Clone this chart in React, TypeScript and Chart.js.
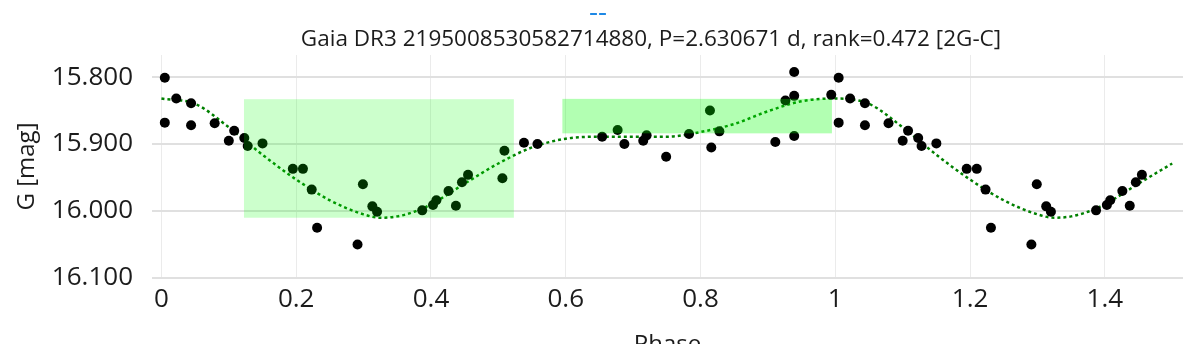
import React, { useEffect, useRef } from "react";
import { Chart, registerables } from "chart.js";

Chart.register(...registerables);

const TITLE_TOP = "--";
const TITLE_MAIN = "Gaia DR3 2195008530582714880, P=2.630671 d, rank=0.472 [2G-C]";
const X_LABEL = "Phase";
const Y_LABEL = "G [mag]";

// observed points (phase in [0,1))
const OBS_PHASE = [
  0.005, 0.005, 0.022, 0.044, 0.044, 0.079, 0.1, 0.108, 0.123, 0.128, 0.15,
  0.195, 0.21, 0.223, 0.231, 0.291, 0.299, 0.313, 0.32, 0.387, 0.403, 0.408,
  0.426, 0.437, 0.446, 0.455, 0.506, 0.509, 0.538, 0.558, 0.654, 0.677, 0.687,
  0.715, 0.72, 0.749, 0.783, 0.814, 0.816, 0.828, 0.911, 0.926, 0.939, 0.939,
  0.939, 0.994,
];
const OBS_MAG = [
  15.801, 15.868, 15.832, 15.839, 15.872, 15.869, 15.895, 15.88, 15.891, 15.903, 15.899,
  15.937, 15.937, 15.968, 16.025, 16.05, 15.96, 15.993, 16.001, 15.999, 15.991, 15.984,
  15.97, 15.992, 15.957, 15.946, 15.951, 15.91, 15.898, 15.9, 15.889, 15.879, 15.9,
  15.895, 15.887, 15.919, 15.885, 15.85, 15.905, 15.881, 15.897, 15.835, 15.7925, 15.828,
  15.888, 15.8265,
];

// model fit curve
const FIT_PHASE = [
  0, 0.05, 0.1, 0.15, 0.2, 0.25, 0.3, 0.325, 0.35, 0.375, 0.4, 0.45, 0.5, 0.55,
  0.6, 0.65, 0.7, 0.75, 0.8, 0.85, 0.9, 0.95, 1.0,
];
const FIT_MAG = [
  15.832, 15.84, 15.875, 15.916, 15.953, 15.984, 16.005, 16.01, 16.008, 16.001, 15.99,
  15.959, 15.929, 15.905, 15.892, 15.889, 15.889, 15.889, 15.882, 15.87, 15.851, 15.836,
  15.832,
];

// highlighted phase windows
const BOX_PHASE_START = [0.1225, 0.595];
const BOX_PHASE_END = [0.523, 0.995];
const BOX_MAG_TOP = [15.833, 15.8325];
const BOX_MAG_BOTTOM = [16.01, 15.884];
const BOX_COLORS = ["rgba(0,255,0,0.2)", "rgba(0,255,0,0.3)"];

const X_TICKS = [0, 0.2, 0.4, 0.6, 0.8, 1, 1.2, 1.4];
const Y_TICKS = [15.8, 15.9, 16.0, 16.1];
const X_MIN = -0.014;
const X_MAX = 1.516;
const Y_MIN = 15.767;
const Y_MAX = 16.1;
const FOLD_LIMIT = 1.5;

const FONT = "'Open Sans', 'Noto Sans', sans-serif";
const TEXT_COLOR = "#1c1c1c";

function buildObs() {
  const pts: { x: number; y: number }[] = [];
  OBS_PHASE.forEach((p, i) => pts.push({ x: p, y: OBS_MAG[i] }));
  OBS_PHASE.forEach((p, i) => {
    if (p + 1 <= FOLD_LIMIT) pts.push({ x: p + 1, y: OBS_MAG[i] });
  });
  return pts;
}

function buildFit() {
  const pts: { x: number; y: number }[] = [];
  FIT_PHASE.forEach((p, i) => pts.push({ x: p, y: FIT_MAG[i] }));
  FIT_PHASE.forEach((p, i) => {
    if (p > 0 && p + 1 <= FOLD_LIMIT) pts.push({ x: p + 1, y: FIT_MAG[i] });
  });
  return pts;
}

const overlayPlugin = {
  id: "overlay",
  afterDatasetsDraw(chart: any) {
    const { ctx, scales } = chart;
    const x = scales.x;
    const y = scales.y;
    ctx.save();
    BOX_PHASE_START.forEach((p0: number, i: number) => {
      const l = x.getPixelForValue(p0);
      const r = x.getPixelForValue(BOX_PHASE_END[i]);
      const t = y.getPixelForValue(BOX_MAG_TOP[i]);
      const b = y.getPixelForValue(BOX_MAG_BOTTOM[i]);
      ctx.fillStyle = BOX_COLORS[i];
      ctx.fillRect(l, Math.min(t, b), r - l, Math.abs(b - t));
    });
    ctx.restore();
  },
  afterDraw(chart: any) {
    const { ctx } = chart;
    ctx.save();
    ctx.textAlign = "center";
    ctx.textBaseline = "middle";
    ctx.fillStyle = "#1e88e5";
    ctx.font = `28px ${FONT}`;
    ctx.fillText(TITLE_TOP, chart.width / 2, 5);
    ctx.fillStyle = TEXT_COLOR;
    ctx.font = `22.5px ${FONT}`;
    ctx.fillText(TITLE_MAIN, 643, 32);
    ctx.restore();
  },
};

export default function App() {
  const ref = useRef<HTMLCanvasElement | null>(null);

  useEffect(() => {
    document.body.style.overflow = "hidden";
    const canvas = ref.current;
    if (!canvas) return;
    const chart = new Chart(canvas, {
      type: "scatter",
      data: {
        datasets: [
          {
            type: "line",
            label: "fit",
            data: buildFit(),
            borderColor: "#008000",
            borderWidth: 2.5,
            borderDash: [3, 3],
            pointRadius: 0,
            fill: false,
            cubicInterpolationMode: "monotone",
            order: 2,
          } as any,
          {
            label: "G",
            data: buildObs(),
            backgroundColor: "#000",
            borderWidth: 0,
            pointRadius: 5,
            order: 1,
          },
        ],
      },
      options: {
        responsive: false,
        animation: false,
        layout: { padding: { top: 47, right: 4, left: 0, bottom: 0 } },
        plugins: {
          legend: { display: false },
          tooltip: { enabled: false },
          title: { display: false },
        },
        scales: {
          x: {
            type: "linear",
            min: X_MIN,
            max: X_MAX,
            afterBuildTicks: (s: any) => {
              s.ticks = X_TICKS.map((v) => ({ value: v }));
            },
            afterFit: (s: any) => {
              s.height = 90;
            },
            grid: { color: "#ebebeb", lineWidth: 1, drawTicks: false },
            border: { display: false },
            ticks: {
              padding: 6,
              color: TEXT_COLOR,
              font: { family: FONT, size: 26 },
              maxRotation: 0,
              callback: (v: any) => String(+Number(v).toFixed(1)),
            },
            title: {
              display: true,
              text: X_LABEL,
              color: TEXT_COLOR,
              font: { family: FONT, size: 24 },
              padding: { top: 0, bottom: 8.5 },
            },
          },
          y: {
            type: "linear",
            reverse: true,
            min: Y_MIN,
            max: Y_MAX,
            afterBuildTicks: (s: any) => {
              s.ticks = Y_TICKS.map((v) => ({ value: v }));
            },
            afterFit: (s: any) => {
              s.width = 144;
            },
            grid: { color: "#e0e0e0", lineWidth: 2, drawTicks: false },
            border: { display: false },
            ticks: {
              padding: 19,
              color: TEXT_COLOR,
              font: { family: FONT, size: 26 },
              callback: (v: any) => Number(v).toFixed(3),
            },
            title: {
              display: true,
              text: Y_LABEL,
              color: TEXT_COLOR,
              font: { family: FONT, size: 24 },
              padding: { top: 5, bottom: 0 },
            },
          },
        },
      },
      plugins: [overlayPlugin],
    });
    return () => chart.destroy();
  }, []);

  return (
    <div style={{ width: 1180, height: 360 }}>
      <canvas ref={ref} width={1180} height={360} style={{ display: "block" }} />
    </div>
  );
}
